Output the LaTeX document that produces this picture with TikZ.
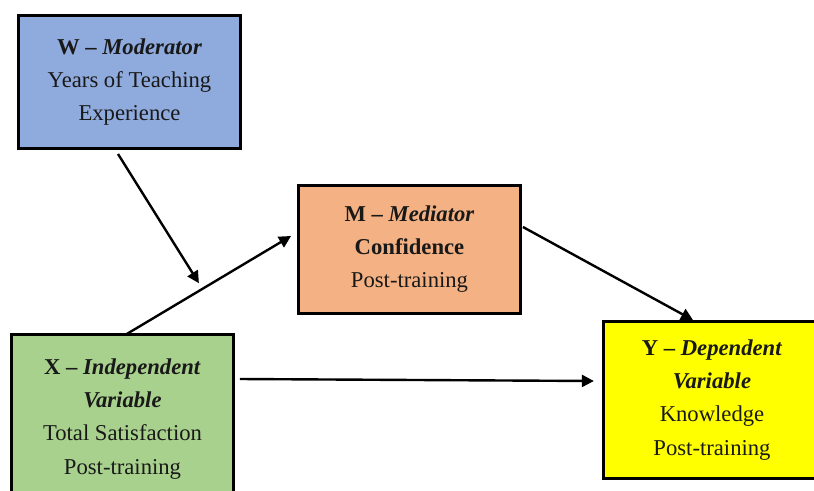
\documentclass[tikz,border=0pt]{standalone}
\usepackage{fontspec}
\setmainfont{Liberation Serif}
\usepackage{xcolor}
\usetikzlibrary{arrows.meta,calc,positioning}

\definecolor{wblue}{HTML}{8FAADC}
\definecolor{morange}{HTML}{F4B183}
\definecolor{xgreen}{HTML}{A9D18E}
\definecolor{yyellow}{HTML}{FFFF00}

\tikzset{
    varbox/.style={draw, rectangle, line width=2.2pt, align=center, text=black!90,
        font=\fontsize{17}{24.8}\selectfont, minimum width=166.5pt},
    link/.style={line width=1.8pt, -{Triangle[length=9pt,width=9pt]}}
}

\begin{document}
\begin{tikzpicture}[x=0.75pt, y=-0.75pt]
    \useasboundingbox (0,0) rectangle (814,490);
    \clip (0,0) rectangle (814,490);

    \node [varbox, fill=wblue, minimum height=99.75pt] (w) at (129.5,82) {\textbf{W -- \textit{Moderator}}\\Years of Teaching\\Experience};
    \node [varbox, fill=morange, minimum height=96pt] (m) at (409.5,249.5) {\textbf{M -- \textit{Mediator}}\\\textbf{Confidence}\\Post-training};
    \node [varbox, fill=xgreen, minimum height=127pt] (x) at (122.5,419) {\textbf{X -- \textit{Independent}}\\\textbf{\textit{Variable}}\\Total Satisfaction\\Post-training};
    \node [varbox, fill=yyellow, minimum width=163pt, minimum height=117.75pt] (y) at (712,400) {\textbf{Y -- \textit{Dependent}}\\\textbf{\textit{Variable}}\\Knowledge\\Post-training};

    % paths
    \draw [link] ([shift={(4.5,1)}]x.north) -- coordinate[pos=0.46] (hit) ([shift={(-6,-13.5)}]m.west);
    \draw [link, shorten >=5pt] ([shift={(-11.5,4)}]w.south) -- (hit);
    \draw [link] ([shift={(1,-22.5)}]m.east) -- ([shift={(-19,0)}]y.north);
    \draw [link] ([shift={(5,-40)}]x.east) -- ([shift={(-8,-19)}]y.west);
\end{tikzpicture}
\end{document}
